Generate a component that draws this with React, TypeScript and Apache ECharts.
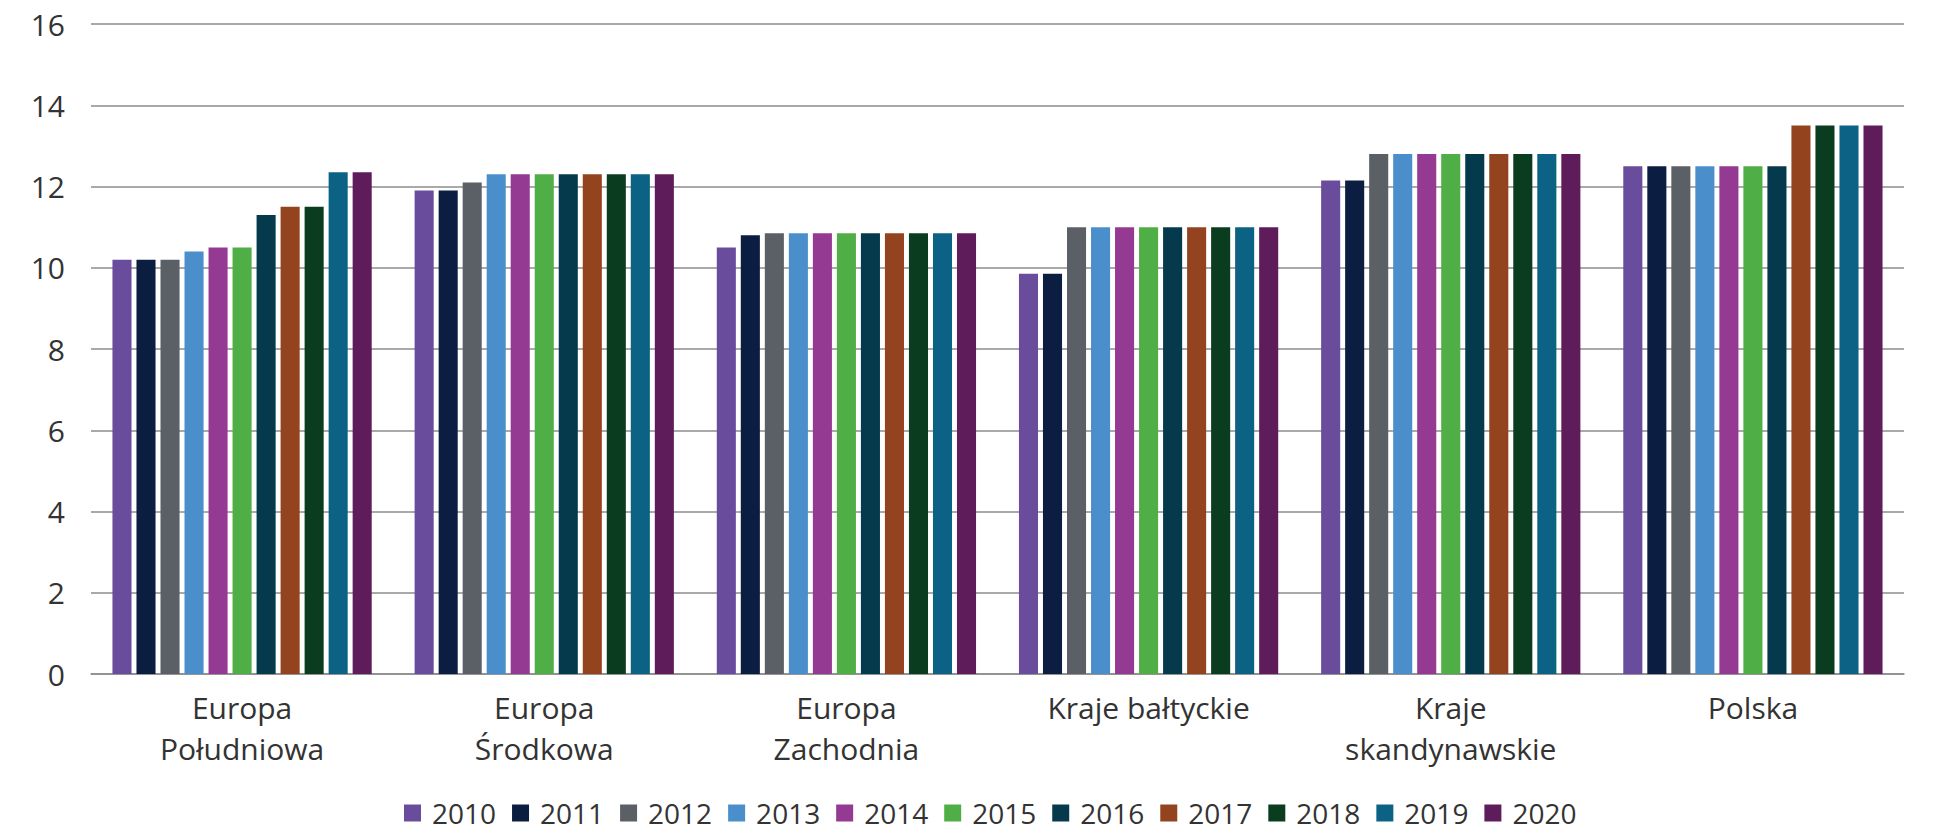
import React, { useEffect, useRef } from "react";
import * as echarts from "echarts";

const categories = [
  "Europa\nPołudniowa",
  "Europa\nŚrodkowa",
  "Europa\nZachodnia",
  "Kraje bałtyckie",
  "Kraje\nskandynawskie",
  "Polska",
];

const years = ["2010", "2011", "2012", "2013", "2014", "2015", "2016", "2017", "2018", "2019", "2020"];

const colors = [
  "#6A4C9C",
  "#0B1D40",
  "#5B6066",
  "#4A8FCC",
  "#953A93",
  "#50AE47",
  "#043A4B",
  "#93441F",
  "#0A3D1F",
  "#0B6284",
  "#5E1C5B",
];

// values per region, in year order 2010..2020
const europaPoludniowa = [10.2, 10.2, 10.2, 10.4, 10.5, 10.5, 11.3, 11.5, 11.5, 12.35, 12.35];
const europaSrodkowa = [11.9, 11.9, 12.1, 12.3, 12.3, 12.3, 12.3, 12.3, 12.3, 12.3, 12.3];
const europaZachodnia = [10.5, 10.8, 10.85, 10.85, 10.85, 10.85, 10.85, 10.85, 10.85, 10.85, 10.85];
const krajeBaltyckie = [9.85, 9.85, 11.0, 11.0, 11.0, 11.0, 11.0, 11.0, 11.0, 11.0, 11.0];
const krajeSkandynawskie = [12.15, 12.15, 12.8, 12.8, 12.8, 12.8, 12.8, 12.8, 12.8, 12.8, 12.8];
const polska = [12.5, 12.5, 12.5, 12.5, 12.5, 12.5, 12.5, 13.5, 13.5, 13.5, 13.5];

const regions = [europaPoludniowa, europaSrodkowa, europaZachodnia, krajeBaltyckie, krajeSkandynawskie, polska];

const yTicks = { min: 0, max: 16, interval: 2 };

export default function App() {
  const ref = useRef<HTMLDivElement>(null);

  useEffect(() => {
    if (!ref.current) return;
    const chart = echarts.init(ref.current, null, { renderer: "svg" });
    const font = "'Open Sans', 'Noto Sans', sans-serif";
    const textColor = "#333333";
    const gridColor = "#8c8c8c";

    const series = years.map((y, i) => ({
      name: y,
      type: "bar",
      data: regions.map((r) => r[i]),
      itemStyle: { color: colors[i] },
      barGap: "26%",
      barCategoryGap: "14.2%",
    }));

    chart.setOption({
      animation: false,
      textStyle: { fontFamily: font },
      grid: { left: 91, right: 35, top: 24, bottom: 163, containLabel: false },
      xAxis: {
        type: "category",
        data: categories,
        axisTick: { show: false },
        axisLine: { show: true, lineStyle: { color: gridColor, width: 1.5 } },
        axisLabel: {
          color: textColor,
          fontSize: 30,
          fontFamily: font,
          lineHeight: 41,
          margin: 13,
          interval: 0,
          verticalAlign: "top",
        },
      },
      yAxis: {
        type: "value",
        min: yTicks.min,
        max: yTicks.max,
        interval: yTicks.interval,
        axisLine: { show: false },
        axisTick: { show: false },
        axisLabel: { color: textColor, fontSize: 30, fontFamily: font, margin: 26 },
        splitLine: { show: true, lineStyle: { color: gridColor, width: 1.5 } },
      },
      legend: {
        data: years,
        left: 399,
        top: 794,
        itemWidth: 17,
        itemHeight: 17,
        itemGap: 16,
        icon: "rect",
        textStyle: { color: textColor, fontSize: 28, fontFamily: font, padding: [0, 0, 0, 6] },
      },
      series,
    });

    return () => chart.dispose();
  }, []);

  return (
    <div
      ref={ref}
      style={{ position: "fixed", left: 0, top: 0, width: 1939, height: 837, background: "#fff" }}
    />
  );
}
